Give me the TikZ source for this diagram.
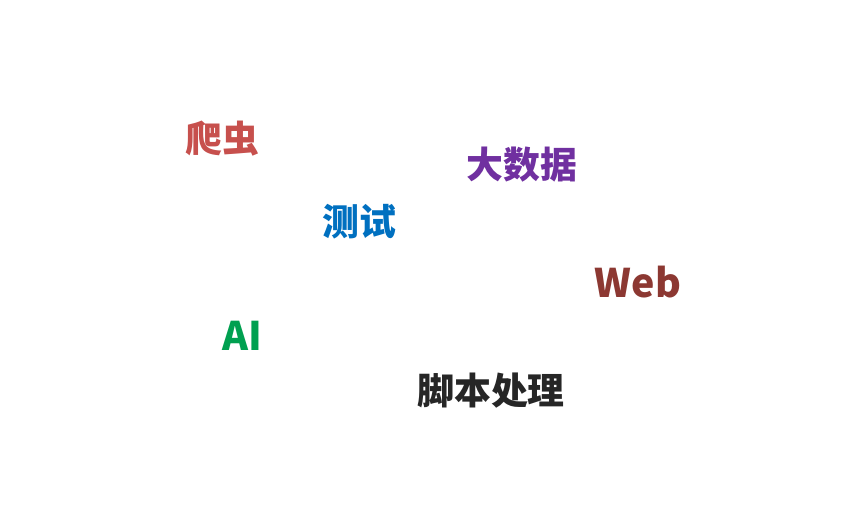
\documentclass[tikz,border=0pt]{standalone}
\usepackage{fontspec}
\usepackage{xcolor}
\usepackage{tikz}
\newfontfamily\cjk{Noto Sans CJK SC}
\definecolor{crawlred}{RGB}{199, 80, 77}
\definecolor{datapurple}{RGB}{112, 48, 160}
\definecolor{testblue}{RGB}{0, 112, 192}
\definecolor{webbrown}{RGB}{140, 56, 50}
\definecolor{aigreen}{RGB}{0, 160, 80}
\definecolor{scriptgray}{RGB}{38, 38, 38}

\begin{document}
\begin{tikzpicture}[
  x=1bp, y=-1bp,
  word/.style={
    text=#1, inner sep=0pt, anchor=center,
    font=\cjk\bfseries\fontsize{37}{40}\selectfont
  },
  latin/.style={
    word=#1, font=\cjk\bfseries\fontsize{39.5}{42}\selectfont
  },
]

% page frame
\useasboundingbox[fill=white] (0, 0) rectangle (854, 530);

% topics
\node[word=crawlred]    (crawl)  at (222, 139) {爬虫};
\node[word=datapurple]  (data)   at (522, 165) {大数据};
\node[word=testblue]    (test)   at (359, 222) {测试};
\node[latin=webbrown]   (web)    at (638, 282) {Web};
\node[latin=aigreen]    (ai)     at (242, 336) {AI};
\node[word=scriptgray]  (script) at (491, 391) {脚本处理};

\end{tikzpicture}
\end{document}
